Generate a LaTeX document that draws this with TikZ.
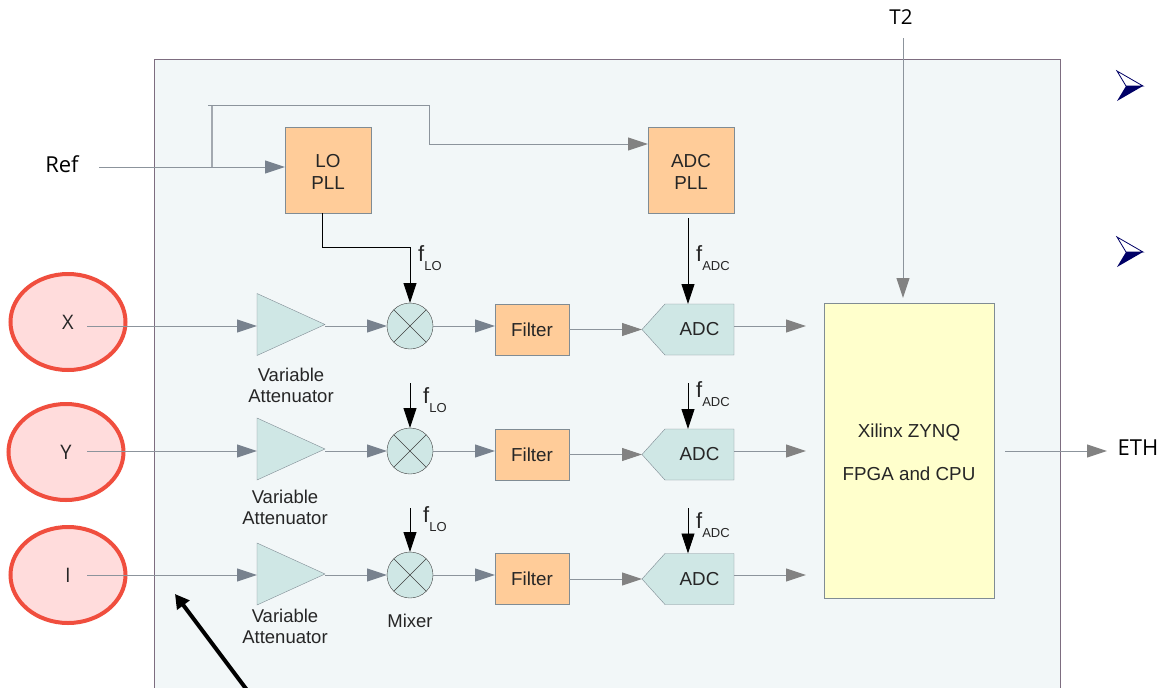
\documentclass[tikz,border=0pt]{standalone}
\usepackage{fontspec}
\setmainfont{Liberation Sans}
\newfontfamily\portfont{Open Sans}
\usetikzlibrary{arrows.meta,positioning,shapes.geometric,shapes.symbols}
\definecolor{panelbg}{HTML}{F2F7F8}
\definecolor{panelrim}{HTML}{7D6D80}
\definecolor{wiregray}{HTML}{8C949C}
\definecolor{rimgray}{HTML}{808C94}
\definecolor{tipgray}{HTML}{78828E}
\definecolor{tipplain}{HTML}{828282}
\definecolor{boxorange}{HTML}{FFCC99}
\definecolor{boxteal}{HTML}{CFE7E5}
\definecolor{boxyellow}{HTML}{FFFFCC}
\definecolor{ringred}{HTML}{F04E3E}
\definecolor{ringfill}{HTML}{FFDCDC}
\definecolor{bulletnavy}{HTML}{000066}
\newcommand{\fsub}[1]{{\fontsize{22}{22}\selectfont f}\raisebox{-9.5pt}{\fontsize{13}{13}\selectfont #1}}
\newcommand{\toprule}{\rule{0pt}{16.5pt}}
\newcommand{\arrowbullet}[1]{%
  \fill[white] (1117,#1-15) -- (1143,#1) -- (1126,#1) -- cycle;
  \draw[bulletnavy, line width=0.8pt] (1117,#1-15) -- (1143,#1) -- (1126,#1) -- cycle;
  \fill[bulletnavy] (1117,#1+15) -- (1143,#1) -- (1126,#1) -- cycle;
}

\begin{document}
\begin{tikzpicture}[
  x=1pt, y=-1pt,
  font=\fontsize{18.8}{22}\selectfont,
  block/.style={draw=rimgray, fill=boxorange, align=center, inner sep=0pt, outer sep=0pt, text=black!85},
  pll/.style={block, minimum width=86pt, minimum height=86pt},
  filt/.style={block, minimum width=74pt, minimum height=51pt},
  amp/.style={isosceles triangle, isosceles triangle stretches, draw=rimgray, fill=boxteal,
    minimum width=62pt, minimum height=68pt, inner sep=0pt, outer sep=0pt, anchor=lower side},
  mix/.style={circle, draw=black!75, fill=boxteal, minimum size=46pt, inner sep=0pt, outer sep=0pt},
  adc/.style={signal, signal to=west, signal pointer angle=96, draw=rimgray, fill=boxteal,
    minimum width=92pt, minimum height=51pt, inner sep=0pt, outer sep=0pt, anchor=east, text=black!85},
  sensor/.style={ellipse, draw=ringred, fill=ringfill, line width=4pt, minimum width=115pt, minimum height=96pt,
    inner sep=0pt, font=\portfont\fontsize{20}{22}\selectfont, text=black!85},
  lab/.style={align=center, inner sep=0pt, text=black!85, font=\fontsize{18.5}{21}\selectfont},
  freq/.style={inner sep=0pt, anchor=base west, text=black!85},
  port/.style={inner sep=0pt, font=\portfont\fontsize{22}{24}\selectfont},
  wire/.style={draw=wiregray, line width=1pt},
  arr/.style={wire, -{Triangle[length=20pt,width=13pt,color=tipgray]}},
  arrg/.style={wire, -{Triangle[length=20pt,width=13pt,color=tipplain]}},
  clk/.style={draw=black, line width=0.9pt, -{Triangle[length=20pt,width=13pt]}}
]
  \clip (0,0) rectangle (1157,688);
  \fill[white] (0,0) rectangle (1157,688);
  \node[draw=panelrim, fill=panelbg, line width=1.2pt, outer sep=0pt, minimum width=906pt, minimum height=660pt, anchor=north west, inner sep=0pt] (panel) at (154.5,59.5) {};

  % reference side
  \node[port] (ref) at (62,164) {Ref};
  \node[port, font=\portfont\fontsize{20.5}{22}\selectfont] (t2) at (901,17) {T2};
  \node[port] (eth) at (1138,448) {ETH};
  \node[pll] (lopll) at (328,170) {\toprule LO\\PLL};
  \node[pll] (adcpll) at (691,170) {\toprule ADC\\PLL};
  \coordinate (refin) at (99,167);
  \coordinate (tap) at (212,167);
  \coordinate (stub) at (208,105);
  \coordinate (hop) at (429,105);
  \coordinate (hopend) at (429,144);
  \draw[arr] (refin) -- (refin -| lopll.west);
  \draw[wire, line width=1.4pt, draw=wiregray!80] (tap) -- (tap |- stub);
  \draw[arrg] (stub) -- (hop) -- (hopend) -- (hopend -| adcpll.west);

  % input ellipses
  \node[sensor] (xin) at (68,322) {X};
  \node[sensor] (yin) at (66,452) {Y};
  \node[sensor] (iin) at (68,575) {I};
  \coordinate (xstart) at (87,326);
  \coordinate (ystart) at (87,451);
  \coordinate (istart) at (87,575);

  % attenuators
  \node[amp] (ampx) at (257,324.5) {};
  \node[amp] (ampy) at (257,449) {};
  \node[amp] (ampi) at (257,574) {};
  \node[lab] (attx) at (291,385.5) {Variable\\Attenuator};
  \node[lab] (atty) at (285,507) {Variable\\Attenuator};
  \node[lab] (atti) at (285,626) {Variable\\Attenuator};

  % mixers
  \node[mix] (mixx) at (410,326) {};
  \node[mix] (mixy) at (410,451) {};
  \node[mix] (mixi) at (410,575) {};
  \draw[black!75] (mixx.45) -- (mixx.225) (mixx.135) -- (mixx.315);
  \draw[black!75] (mixy.45) -- (mixy.225) (mixy.135) -- (mixy.315);
  \draw[black!75] (mixi.45) -- (mixi.225) (mixi.135) -- (mixi.315);
  \node[lab] (mixlab) at (410,620.5) {Mixer};

  % filters and converters
  \node[filt] (filx) at (532,329.5) {Filter};
  \node[filt] (fily) at (532,454.5) {Filter};
  \node[filt] (fili) at (532,579) {Filter};
  \node[adc] (adcx) at (734,329.5) {ADC};
  \node[adc] (adcy) at (734,454.5) {ADC};
  \node[adc] (adci) at (734,579) {ADC};

  % fpga
  \node[block, fill=boxyellow, minimum width=170pt, minimum height=295pt] (fpga) at (909,450.5) {\toprule Xilinx ZYNQ\\[21pt]FPGA and CPU};

  % signal path
  \draw[arr] (xstart) -- (xstart -| ampx.lower side);
  \draw[arr] (ystart) -- (ystart -| ampy.lower side);
  \draw[arr] (istart) -- (istart -| ampi.lower side);
  \draw[arr] (mixx.west -| ampx.apex) -- (mixx.west);
  \draw[arr] (mixy.west -| ampy.apex) -- (mixy.west);
  \draw[arr] (mixi.west -| ampi.apex) -- (mixi.west);
  \draw[arr] (mixx.east) -- (mixx.east -| filx.west);
  \draw[arr] (mixy.east) -- (mixy.east -| fily.west);
  \draw[arr] (mixi.east) -- (mixi.east -| fili.west);
  \draw[arrg] (filx.east) -- (adcx.west);
  \draw[arrg] (fily.east) -- (adcy.west);
  \draw[arrg] (fili.east) -- (adci.west);
  \coordinate (outx) at (806,326);
  \coordinate (outy) at (806,451);
  \coordinate (outi) at (806,575);
  \draw[arrg] (outx -| adcx.east) -- (outx);
  \draw[arrg] (outy -| adcy.east) -- (outy);
  \draw[arrg] (outi -| adci.east) -- (outi);
  \coordinate (ethout) at (1005,451);
  \coordinate (ethend) at (1107,451);
  \draw[arrg] (ethout) -- (ethend);
  \coordinate (t2top) at (903,38);
  \coordinate (t2end) at (903,298);
  \draw[arrg] (t2top) -- (t2end);

  % clocks
  \coordinate (lotop1) at (410,383);
  \coordinate (lotop2) at (410,508);
  \coordinate (adctop0) at (688,218);
  \coordinate (adctop1) at (688,383);
  \coordinate (adctop2) at (688,508);
  \coordinate (lobend) at (322,247);
  \draw[clk] (lobend |- lopll.south) -- (lobend) -- (lobend -| mixx.north) -- (mixx.north);
  \draw[clk] (adctop0) -- (adctop0 |- adcx.north);
  \draw[clk] (lotop1) -- (mixy.north);
  \draw[clk] (lotop2) -- (mixi.north);
  \draw[clk] (adctop1) -- (adctop1 |- adcy.north);
  \draw[clk] (adctop2) -- (adctop2 |- adci.north);
  \node[freq] (flox) at (418,261) {\fsub{LO}};
  \node[freq] (floy) at (423,403) {\fsub{LO}};
  \node[freq] (floi) at (423,522) {\fsub{LO}};
  \node[freq] (fadcx) at (696,261) {\fsub{ADC}};
  \node[freq] (fadcy) at (696,397) {\fsub{ADC}};
  \node[freq] (fadci) at (696,528) {\fsub{ADC}};

  % pointer and bullets
  \coordinate (ptrfoot) at (250,694);
  \coordinate (ptrhead) at (175,594);
  \draw[black, line width=4pt, -{Triangle[length=14pt,width=15pt]}] (ptrfoot) -- (ptrhead);
  \arrowbullet{86}
  \arrowbullet{252}
\end{tikzpicture}
\end{document}
